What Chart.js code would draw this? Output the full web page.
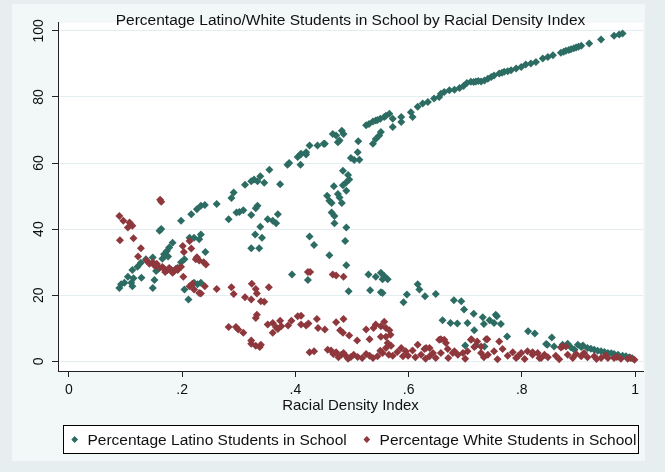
<!DOCTYPE html>
<html>
<head>
<meta charset="utf-8">
<script src="https://cdn.jsdelivr.net/npm/chart.js@4/dist/chart.umd.min.js"></script>
<style>
  html, body { margin: 0; padding: 0; background: #e6eef0; }
  #wrap { width: 665px; height: 472px; }
</style>
</head>
<body>
<div id="wrap"><canvas id="c" width="665" height="472"></canvas></div>
<script>
// Text
const chartTitle = 'Percentage Latino/White Students in School by Racial Density Index';
const xAxisTitle = 'Racial Density Index';
const seriesNames = ['Percentage Latino Students in School', 'Percentage White Students in School'];

// Axis ticks
const xTicks = [0, 0.2, 0.4, 0.6, 0.8, 1];
const xTickLabels = ['0', '.2', '.4', '.6', '.8', '1'];
const yTicks = [0, 20, 40, 60, 80, 100];

// [racial density index, percentage Latino students]
const latinoPoints = [
  [0.089,22.2],[0.092,23.3],[0.098,23.8],[0.104,25.6],[0.110,23.8],[0.112,22.7],[0.114,25.1],[0.112,27.6],
  [0.121,28.6],[0.127,29.8],[0.128,25.3],[0.136,30.9],[0.148,31.4],[0.148,22.2],[0.151,24.6],[0.154,27.3],
  [0.158,28.0],[0.163,40.0],[0.160,39.5],[0.168,32.4],[0.173,33.4],[0.177,34.4],[0.175,31.7],[0.183,35.9],
  [0.192,28.3],[0.198,30.0],[0.204,30.9],[0.198,42.5],[0.216,44.5],[0.226,46.0],[0.213,37.4],[0.221,37.4],
  [0.204,21.7],[0.211,18.7],[0.221,23.8],[0.227,23.3],[0.230,36.9],[0.165,31.0],[0.170,32.0],
  [0.233,47.1],[0.240,47.3],[0.261,47.6],[0.233,38.4],[0.241,33.1],[0.233,23.8],[0.282,43.0],[0.287,49.4],
  [0.291,51.1],[0.296,45.0],[0.301,45.2],[0.308,45.7],[0.311,53.4],[0.322,54.5],[0.327,55.0],[0.333,54.5],
  [0.338,56.0],[0.345,54.0],[0.322,44.3],[0.330,46.3],[0.333,47.1],[0.354,58.0],[0.373,53.6],[0.351,43.0],
  [0.360,42.5],[0.366,41.8],[0.369,44.5],[0.338,40.7],[0.329,38.4],[0.341,37.4],[0.322,34.2],[0.336,34.2],
  [0.386,59.5],[0.389,60.0],[0.404,61.8],[0.409,62.6],[0.419,62.6],[0.409,59.5],[0.425,37.8],[0.433,35.2],
  [0.394,26.3],[0.422,24.6],
  [0.452,65.8],[0.466,68.8],[0.472,68.3],[0.478,66.8],[0.482,69.8],[0.485,68.8],[0.475,66.3],[0.511,66.6],
  [0.510,63.3],[0.498,61.5],[0.504,60.9],[0.513,61.0],[0.484,57.7],[0.493,56.4],[0.495,55.0],[0.490,54.2],
  [0.484,53.3],[0.468,53.0],[0.490,51.6],[0.475,50.6],[0.456,50.1],[0.478,49.6],[0.460,48.6],[0.464,47.9],
  [0.482,47.9],[0.464,45.0],[0.469,44.0],[0.469,41.8],[0.490,40.5],[0.488,36.4],[0.460,32.1],[0.490,29.1],
  [0.494,21.2],[0.529,26.3],[0.532,21.5],[0.542,25.6],[0.551,26.8],[0.557,25.8],[0.563,24.8],[0.554,24.8],
  [0.551,20.9],[0.525,71.4],[0.537,72.6],[0.542,72.9],[0.550,73.4],[0.557,73.9],[0.566,74.9],[0.572,73.4],
  [0.551,69.4],[0.548,68.3],[0.542,67.3],[0.537,65.8],[0.572,70.9],[0.587,73.9],[0.587,72.4],[0.604,75.4],
  [0.607,73.9],[0.616,77.0],[0.625,78.0],[0.634,78.5],[0.597,20.2],[0.591,17.9],[0.616,23.3],[0.619,21.7],
  [0.629,19.7],[0.648,20.4],[0.439,65.3],[0.450,65.8],[0.425,65.3],[0.410,62.8],[0.419,63.3],
  [0.530,71.8],[0.545,73.0],[0.560,74.3],
  [0.663,81.5],[0.672,82.0],[0.681,82.2],[0.690,82.7],[0.697,83.3],[0.710,84.6],[0.719,84.7],[0.728,84.7],
  [0.734,85.0],[0.746,86.0],[0.751,86.5],[0.760,87.1],[0.769,87.6],[0.781,88.1],[0.790,88.6],[0.799,89.1],
  [0.807,89.8],[0.816,90.1],[0.825,90.6],[0.645,79.5],[0.654,80.0],[0.657,81.0],[0.703,84.2],[0.715,84.5],
  [0.723,84.8],[0.740,85.5],[0.765,87.3],[0.775,87.8],
  [0.680,18.5],[0.693,18.2],[0.698,15.7],[0.715,14.4],[0.660,12.4],[0.674,11.6],[0.686,11.4],[0.704,11.6],
  [0.716,9.4],[0.731,13.3],[0.733,11.3],[0.743,12.4],[0.751,11.6],[0.754,14.1],[0.756,13.6],[0.763,11.3],
  [0.774,7.5],[0.700,4.8],[0.719,4.8],[0.734,4.5],[0.811,9.1],[0.823,8.4],[0.554,20.7],
  [0.837,91.6],[0.855,92.6],[0.869,93.4],[0.878,94.0],[0.887,94.4],[0.896,95.0],[0.905,95.5],[0.919,96.2],
  [0.940,97.4],[0.963,98.5],[0.972,98.9],[0.978,99.2],[0.846,92.1],[0.874,93.7],[0.883,94.2],[0.892,94.7],
  [0.900,95.2],
  [0.853,7.2],[0.843,5.2],[0.857,4.5],[0.872,5.0],[0.887,4.2],[0.899,5.0],[0.908,4.8],[0.916,4.0],
  [0.928,3.5],[0.940,3.0],[0.952,2.5],[0.963,2.2],[0.978,1.7],[0.990,1.2],[0.893,3.5],[0.881,5.3],
  [0.905,4.3],[0.922,3.8],[0.934,3.2],[0.946,2.8],[0.958,2.4],[0.970,2.0],[0.984,1.5],[0.995,0.9],
  [0.845,5.0]
];

// [racial density index, percentage White students]
const whitePoints = [
  [0.089,44.0],[0.096,42.5],[0.107,42.0],[0.112,41.0],[0.104,40.5],[0.090,36.6],[0.114,37.2],[0.161,48.9],
  [0.163,48.3],[0.127,34.2],[0.122,31.7],[0.137,30.5],[0.148,30.0],[0.151,29.0],[0.160,28.3],[0.168,28.0],
  [0.174,27.6],[0.180,27.8],[0.186,27.3],[0.192,27.6],[0.198,28.6],[0.202,25.6],[0.201,34.9],[0.203,33.1],
  [0.213,36.4],[0.216,34.1],[0.224,30.9],[0.230,30.5],[0.213,22.7],[0.221,21.7],[0.230,20.7],
  [0.155,29.5],[0.165,28.5],[0.170,27.0],[0.177,28.2],[0.183,26.8],[0.189,28.0],[0.142,29.5],[0.226,31.5],
  [0.218,23.5],
  [0.238,30.0],[0.242,29.3],[0.240,22.7],[0.233,20.5],[0.261,21.9],[0.287,22.4],[0.291,20.4],[0.311,19.4],
  [0.322,18.7],[0.323,23.5],[0.330,21.9],[0.332,20.5],[0.339,18.2],[0.345,18.0],[0.353,22.4],[0.332,14.1],
  [0.330,13.1],[0.282,10.4],[0.295,10.4],[0.299,9.6],[0.308,8.6],[0.322,6.3],[0.322,5.3],[0.330,4.7],
  [0.337,4.3],[0.339,5.0],[0.351,11.1],[0.360,11.6],[0.366,10.3],[0.369,9.8],[0.360,8.6],[0.373,12.3],
  [0.387,10.8],[0.393,12.3],[0.404,13.6],[0.410,13.8],[0.410,11.1],[0.419,10.8],[0.423,11.4],[0.438,12.8],
  [0.440,10.1],[0.422,27.0],[0.426,27.0],[0.425,2.7],[0.433,3.0],[0.375,10.6],
  [0.466,26.3],[0.472,26.0],[0.485,25.6],[0.452,9.6],[0.472,11.8],[0.485,12.8],[0.479,9.4],[0.484,8.6],
  [0.495,7.8],[0.509,6.3],[0.525,9.6],[0.538,10.1],[0.542,11.1],[0.551,10.6],[0.560,10.1],[0.566,9.4],
  [0.531,6.7],[0.551,7.4],[0.560,7.4],[0.563,5.5],[0.560,4.0],[0.569,4.7],[0.554,2.5],[0.457,3.5],
  [0.463,3.3],[0.472,2.7],[0.481,2.0],[0.489,1.7],[0.498,1.3],[0.510,1.3],[0.531,1.7],[0.537,1.0],
  [0.545,1.5],[0.572,1.7],[0.587,4.0],[0.590,1.5],[0.599,1.7],[0.607,3.3],[0.616,5.0],[0.622,2.0],
  [0.628,3.7],[0.637,4.0],[0.637,1.5],[0.648,1.0],[0.654,6.5],
  [0.467,2.2],[0.476,1.2],[0.485,2.5],[0.493,0.8],[0.503,2.0],[0.518,1.0],[0.525,2.2],[0.550,3.2],
  [0.565,2.0],[0.580,2.8],[0.595,3.0],[0.612,1.2],[0.630,0.8],[0.643,2.5],[0.557,12.0],[0.568,8.0],
  [0.663,6.5],[0.666,5.5],[0.657,2.5],[0.669,3.7],[0.678,2.5],[0.687,2.0],[0.696,2.5],[0.704,3.0],
  [0.711,6.7],[0.716,4.3],[0.721,6.0],[0.737,6.7],[0.728,2.5],[0.740,2.0],[0.751,3.0],[0.760,6.0],
  [0.766,3.7],[0.775,1.7],[0.784,2.7],[0.790,1.0],[0.799,2.5],[0.810,3.0],[0.819,2.0],[0.828,2.5],
  [0.831,1.0],[0.631,4.0],[0.657,6.7],[0.681,3.0],[0.710,6.5],[0.728,4.5],[0.739,6.7],[0.819,2.7],
  [0.872,4.5],
  [0.670,1.0],[0.700,0.8],[0.733,1.2],[0.757,0.6],[0.793,1.5],[0.805,0.7],[0.840,2.0],[0.866,0.6],
  [0.890,1.0],[0.910,2.5],[0.932,0.7],[0.948,1.8],[0.968,1.3],[0.992,1.0],
  [0.834,1.0],[0.846,1.2],[0.860,1.7],[0.869,4.2],[0.878,4.5],[0.881,2.0],[0.896,2.2],[0.905,1.5],
  [0.916,1.2],[0.928,1.5],[0.940,1.0],[0.952,1.0],[0.963,1.0],[0.975,0.8],[0.987,0.8],[0.999,0.5]
];

const FONT = "'Liberation Sans', Arial, Helvetica, sans-serif";
const TEXT = '#111';
const AXIS = '#222';
const TEAL = '#2c6c62';
const MAROON = '#8e383d';
const FRAME_BG = '#e6eef0';
const GRAPH_BG = '#f2f7f8';

Chart.defaults.font.family = FONT;

const toXY = pts => pts.map(([x, y]) => ({ x, y }));

// Outer frame, tinted graph region and white plot region
const panelBackground = {
  id: 'panelBackground',
  beforeDraw(chart) {
    const { ctx, width, height, chartArea: a } = chart;
    ctx.save();
    ctx.fillStyle = FRAME_BG;
    ctx.fillRect(0, 0, width, height);
    ctx.fillStyle = GRAPH_BG;
    ctx.fillRect(12, 4, Math.round(a.right) + 2 - 12, height - 15);
    ctx.fillStyle = '#ffffff';
    ctx.fillRect(a.left, a.top, a.right - a.left, a.bottom - a.top);
    ctx.restore();
  }
};

// Framed legend row below the axis title, one entry per dataset
const framedLegend = {
  id: 'framedLegend',
  afterDraw(chart, args, opts) {
    const { ctx, chartArea: a } = chart;
    const left = Math.round(a.left) + 5.5;
    const right = Math.round(a.right) - 4.5;
    const top = Math.round(a.bottom) + 54.5;
    const h = 28;
    const midY = top + h / 2;
    ctx.save();
    ctx.fillStyle = '#ffffff';
    ctx.fillRect(left, top, right - left, h);
    ctx.strokeStyle = '#000';
    ctx.lineWidth = 1;
    ctx.strokeRect(left, top, right - left, h);

    const fontSize = opts.fontSize;
    ctx.font = `${fontSize}px ${FONT}`;
    const boxW = 10, gap = 15, textOffset = boxW + fontSize / 2;
    const items = chart.data.datasets.map(ds => ({
      label: ds.label, color: ds.backgroundColor,
      w: textOffset + ctx.measureText(ds.label).width
    }));
    const total = items.reduce((s, it) => s + it.w, 0) + gap * (items.length - 1);
    let x = (left + right) / 2 - total / 2 + 2;
    ctx.textBaseline = 'middle';
    ctx.textAlign = 'left';
    for (const it of items) {
      ctx.fillStyle = it.color;
      Chart.helpers.drawPoint(ctx, { pointStyle: 'rectRot', radius: 3.2, borderWidth: 0, rotation: 0 }, x + boxW / 2, midY);
      ctx.fill();
      ctx.fillStyle = TEXT;
      ctx.fillText(it.label, x + textOffset, midY + 1);
      x += it.w + gap;
    }
    ctx.restore();
  }
};

new Chart(document.getElementById('c'), {
  type: 'scatter',
  data: {
    datasets: [
      {
        label: seriesNames[0],
        data: toXY(latinoPoints),
        backgroundColor: TEAL,
        borderColor: TEAL,
        borderWidth: 0,
        pointStyle: 'rectRot',
        pointRadius: 4,
        pointBorderWidth: 0,
        order: 1
      },
      {
        label: seriesNames[1],
        data: toXY(whitePoints),
        backgroundColor: MAROON,
        borderColor: MAROON,
        borderWidth: 0,
        pointStyle: 'rectRot',
        pointRadius: 4,
        pointBorderWidth: 0,
        order: 0
      }
    ]
  },
  options: {
    responsive: false,
    animation: false,
    events: [],
    layout: { padding: { left: 12, right: 22, top: 5, bottom: 55 } },
    plugins: {
      tooltip: { enabled: false },
      legend: { display: false },
      framedLegend: { fontSize: 15.5 },
      title: {
        display: true,
        text: chartTitle,
        fullSize: false,
        color: TEXT,
        font: { size: 15.5, weight: 'normal', family: FONT },
        padding: { top: 6, bottom: -7 }
      }
    },
    scales: {
      x: {
        type: 'linear',
        min: -0.0194,
        max: 1.0141,
        afterBuildTicks: s => { s.ticks = xTicks.map(v => ({ value: v })); },
        afterFit: s => { s.height = 46; },
        ticks: {
          autoSkip: false,
          maxRotation: 0,
          padding: 5,
          color: TEXT,
          font: { size: 14, family: FONT },
          callback: (v, i) => xTickLabels[i]
        },
        grid: { drawOnChartArea: false, drawTicks: true, tickLength: 6, tickColor: AXIS },
        border: { color: AXIS, width: 1 },
        title: {
          display: true,
          text: xAxisTitle,
          color: TEXT,
          font: { size: 15, family: FONT },
          padding: { top: 0, bottom: 2 }
        }
      },
      y: {
        type: 'linear',
        min: -2.94,
        max: 102.5,
        afterBuildTicks: s => { s.ticks = yTicks.map(v => ({ value: v })); },
        afterFit: s => { s.width = 46; },
        ticks: {
          minRotation: 90,
          maxRotation: 90,
          crossAlign: 'center',
          padding: 1,
          color: TEXT,
          font: { size: 14, family: FONT },
          callback: v => String(v)
        },
        grid: { color: '#e4edef', lineWidth: 1, drawTicks: true, tickLength: 6, tickColor: AXIS },
        border: { color: AXIS, width: 1 }
      }
    }
  },
  plugins: [panelBackground, framedLegend]
});
</script>
</body>
</html>
